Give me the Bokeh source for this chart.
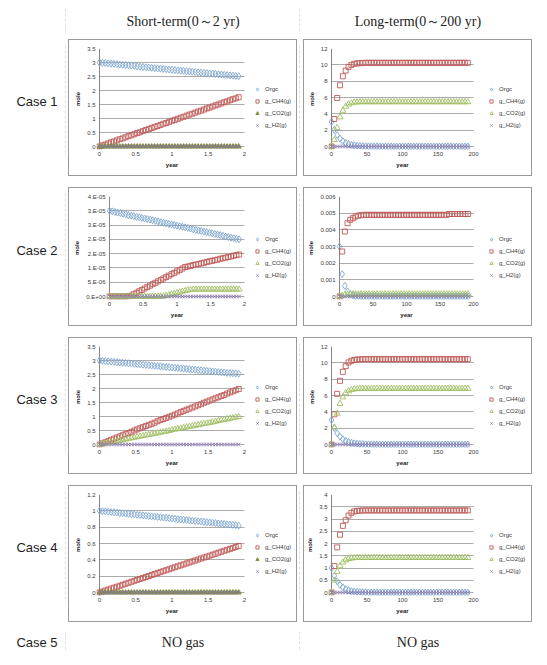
from bokeh.plotting import figure
from bokeh.layouts import row, column
from bokeh.models import (Range1d, Span, Label, Legend, FixedTicker, LinearAxis,
                          CustomJSTickFormatter, ColumnDataSource)
from bokeh.embed import file_html
from bokeh.resources import INLINE
from bokeh.core.validation import silence
from bokeh.core.validation.warnings import MISSING_RENDERERS

silence(MISSING_RENDERERS, True)

# ------------------------------------------------------------------ data
COL_HEADERS = ["Short-term(0～2 yr)", "Long-term(0～200 yr)"]
ROW_LABELS = ["Case 1", "Case 2", "Case 3", "Case 4", "Case 5"]
NO_GAS = "NO gas"
SERIES_NAMES = ["Orgc", "g_CH4(g)", "g_CO2(g)", "g_H2(g)"]
X_TITLE = "year"
Y_TITLE = "mole"

YEARS_SHORT = [0.00, 0.04, 0.08, 0.12, 0.16, 0.20, 0.24, 0.28, 0.32, 0.36,
               0.40, 0.44, 0.48, 0.52, 0.56, 0.60, 0.64, 0.68, 0.72, 0.76,
               0.80, 0.84, 0.88, 0.92, 0.96, 1.00, 1.04, 1.08, 1.12, 1.16,
               1.20, 1.24, 1.28, 1.32, 1.36, 1.40, 1.44, 1.48, 1.52, 1.56,
               1.60, 1.64, 1.68, 1.72, 1.76, 1.80, 1.84, 1.88, 1.92]
YEARS_LONG = [0, 4, 8, 12, 16, 20, 24, 28, 32, 36,
              40, 44, 48, 52, 56, 60, 64, 68, 72, 76,
              80, 84, 88, 92, 96, 100, 104, 108, 112, 116,
              120, 124, 128, 132, 136, 140, 144, 148, 152, 156,
              160, 164, 168, 172, 176, 180, 184, 188, 192]

FLAT_ZERO = [0, 0, 0, 0, 0, 0, 0, 0, 0, 0,
             0, 0, 0, 0, 0, 0, 0, 0, 0, 0,
             0, 0, 0, 0, 0, 0, 0, 0, 0, 0,
             0, 0, 0, 0, 0, 0, 0, 0, 0, 0,
             0, 0, 0, 0, 0, 0, 0, 0, 0]

# Case 1
ORGC_C1_SHORT = [3.00, 2.99, 2.98, 2.97, 2.96, 2.95, 2.94, 2.93, 2.92, 2.91,
                 2.90, 2.89, 2.88, 2.86, 2.85, 2.84, 2.83, 2.82, 2.81, 2.80,
                 2.79, 2.78, 2.77, 2.76, 2.75, 2.74, 2.73, 2.72, 2.71, 2.70,
                 2.69, 2.68, 2.67, 2.66, 2.65, 2.64, 2.63, 2.62, 2.61, 2.60,
                 2.59, 2.58, 2.57, 2.56, 2.55, 2.54, 2.53, 2.52, 2.51]
CH4_C1_SHORT = [0.00, 0.04, 0.07, 0.11, 0.15, 0.18, 0.22, 0.26, 0.29, 0.33,
                0.37, 0.40, 0.44, 0.48, 0.51, 0.55, 0.59, 0.62, 0.66, 0.70,
                0.73, 0.77, 0.81, 0.84, 0.88, 0.92, 0.95, 0.99, 1.03, 1.06,
                1.10, 1.14, 1.17, 1.21, 1.25, 1.28, 1.32, 1.36, 1.39, 1.43,
                1.47, 1.50, 1.54, 1.58, 1.61, 1.65, 1.69, 1.72, 1.76]
ORGC_C1_LONG = [3.00, 2.05, 1.40, 0.96, 0.66, 0.45, 0.31, 0.21, 0.14, 0.10,
                0.07, 0.05, 0.03, 0.02, 0.02, 0.01, 0.01, 0.00, 0.00, 0.00,
                0.00, 0.00, 0.00, 0.00, 0.00, 0.00, 0.00, 0.00, 0.00, 0.00,
                0.00, 0.00, 0.00, 0.00, 0.00, 0.00, 0.00, 0.00, 0.00, 0.00,
                0.00, 0.00, 0.00, 0.00, 0.00, 0.00, 0.00, 0.00, 0.00]
CH4_C1_LONG = [0.00, 3.37, 5.94, 7.50, 8.60, 9.30, 9.75, 10.00, 10.12, 10.18,
               10.21, 10.23, 10.24, 10.25, 10.25, 10.25, 10.25, 10.25, 10.25, 10.25,
               10.25, 10.25, 10.25, 10.25, 10.25, 10.25, 10.25, 10.25, 10.25, 10.25,
               10.25, 10.25, 10.25, 10.25, 10.25, 10.25, 10.25, 10.25, 10.25, 10.25,
               10.25, 10.25, 10.25, 10.25, 10.25, 10.25, 10.25, 10.25, 10.25]
CO2_C1_LONG = [0.00, 0.80, 2.30, 3.60, 4.40, 4.90, 5.18, 5.32, 5.40, 5.43,
               5.45, 5.45, 5.45, 5.45, 5.45, 5.45, 5.45, 5.45, 5.45, 5.45,
               5.45, 5.45, 5.45, 5.45, 5.45, 5.45, 5.45, 5.45, 5.45, 5.45,
               5.45, 5.45, 5.45, 5.45, 5.45, 5.45, 5.45, 5.45, 5.45, 5.45,
               5.45, 5.45, 5.45, 5.45, 5.45, 5.45, 5.45, 5.45, 5.45]

# Case 2
ORGC_C2_SHORT = [3.00e-5, 2.98e-5, 2.96e-5, 2.94e-5, 2.92e-5, 2.90e-5, 2.88e-5, 2.85e-5, 2.83e-5, 2.81e-5,
                 2.79e-5, 2.77e-5, 2.75e-5, 2.73e-5, 2.71e-5, 2.69e-5, 2.67e-5, 2.65e-5, 2.63e-5, 2.60e-5,
                 2.58e-5, 2.56e-5, 2.54e-5, 2.52e-5, 2.50e-5, 2.48e-5, 2.46e-5, 2.44e-5, 2.42e-5, 2.40e-5,
                 2.38e-5, 2.35e-5, 2.33e-5, 2.31e-5, 2.29e-5, 2.27e-5, 2.25e-5, 2.23e-5, 2.21e-5, 2.19e-5,
                 2.17e-5, 2.15e-5, 2.13e-5, 2.10e-5, 2.08e-5, 2.06e-5, 2.04e-5, 2.02e-5, 2.00e-5]
CH4_C2_SHORT = [0.00e-5, 0.00e-5, 0.00e-5, 0.00e-5, 0.00e-5, 0.00e-5, 0.00e-5, 0.01e-5, 0.03e-5, 0.08e-5,
                0.13e-5, 0.18e-5, 0.23e-5, 0.28e-5, 0.33e-5, 0.38e-5, 0.43e-5, 0.48e-5, 0.53e-5, 0.58e-5,
                0.63e-5, 0.68e-5, 0.73e-5, 0.78e-5, 0.83e-5, 0.88e-5, 0.93e-5, 0.98e-5, 1.03e-5, 1.05e-5,
                1.07e-5, 1.10e-5, 1.12e-5, 1.14e-5, 1.16e-5, 1.18e-5, 1.21e-5, 1.23e-5, 1.25e-5, 1.27e-5,
                1.29e-5, 1.32e-5, 1.34e-5, 1.36e-5, 1.38e-5, 1.40e-5, 1.43e-5, 1.45e-5, 1.47e-5]
CO2_C2_SHORT = [0.00e-5, 0.00e-5, 0.00e-5, 0.00e-5, 0.00e-5, 0.00e-5, 0.00e-5, 0.00e-5, 0.00e-5, 0.00e-5,
                0.00e-5, 0.00e-5, 0.00e-5, 0.00e-5, 0.00e-5, 0.00e-5, 0.00e-5, 0.00e-5, 0.00e-5, 0.00e-5,
                0.01e-5, 0.03e-5, 0.05e-5, 0.08e-5, 0.10e-5, 0.13e-5, 0.15e-5, 0.18e-5, 0.20e-5, 0.22e-5,
                0.24e-5, 0.25e-5, 0.25e-5, 0.25e-5, 0.25e-5, 0.25e-5, 0.25e-5, 0.25e-5, 0.25e-5, 0.25e-5,
                0.25e-5, 0.25e-5, 0.25e-5, 0.25e-5, 0.25e-5, 0.25e-5, 0.25e-5, 0.25e-5, 0.25e-5]
ORGC_C2_LONG = [0.00300, 0.00134, 0.00064, 0.00030, 0.00014, 0.00007, 0.00003, 0.00002, 0.00001, 0.0,
                0.0, 0.0, 0.0, 0.0, 0.0, 0.0, 0.0, 0.0, 0.0, 0.0,
                0.0, 0.0, 0.0, 0.0, 0.0, 0.0, 0.0, 0.0, 0.0, 0.0,
                0.0, 0.0, 0.0, 0.0, 0.0, 0.0, 0.0, 0.0, 0.0, 0.0,
                0.0, 0.0, 0.0, 0.0, 0.0, 0.0, 0.0, 0.0, 0.0]
CH4_C2_LONG = [0.0, 0.00270, 0.00390, 0.00440, 0.00460, 0.00470, 0.00480, 0.00485, 0.00488, 0.00490,
               0.00490, 0.00490, 0.00490, 0.00490, 0.00490, 0.00490, 0.00490, 0.00490, 0.00490, 0.00490,
               0.00490, 0.00490, 0.00490, 0.00490, 0.00490, 0.00490, 0.00490, 0.00490, 0.00490, 0.00490,
               0.00490, 0.00490, 0.00490, 0.00490, 0.00490, 0.00490, 0.00490, 0.00490, 0.00490, 0.00490,
               0.00490, 0.00495, 0.00495, 0.00495, 0.00495, 0.00495, 0.00495, 0.00495, 0.00495]
CO2_C2_LONG = [0.0, 0.00005, 0.00010, 0.00012, 0.00013, 0.00014, 0.00014, 0.00014, 0.00014, 0.00014,
               0.00014, 0.00014, 0.00014, 0.00014, 0.00014, 0.00014, 0.00014, 0.00014, 0.00014, 0.00014,
               0.00014, 0.00014, 0.00014, 0.00014, 0.00014, 0.00014, 0.00014, 0.00014, 0.00014, 0.00014,
               0.00014, 0.00014, 0.00014, 0.00014, 0.00014, 0.00014, 0.00014, 0.00014, 0.00014, 0.00014,
               0.00014, 0.00014, 0.00014, 0.00014, 0.00014, 0.00014, 0.00014, 0.00014, 0.00014]

# Case 3
ORGC_C3_SHORT = [3.00, 2.99, 2.98, 2.97, 2.96, 2.95, 2.94, 2.93, 2.92, 2.91,
                 2.90, 2.89, 2.88, 2.87, 2.86, 2.85, 2.84, 2.83, 2.82, 2.81,
                 2.80, 2.79, 2.78, 2.77, 2.76, 2.75, 2.74, 2.73, 2.72, 2.71,
                 2.70, 2.69, 2.68, 2.67, 2.66, 2.65, 2.64, 2.63, 2.62, 2.61,
                 2.60, 2.59, 2.58, 2.57, 2.56, 2.55, 2.54, 2.54, 2.53]
CH4_C3_SHORT = [0.00, 0.04, 0.08, 0.12, 0.17, 0.21, 0.25, 0.29, 0.33, 0.37,
                0.41, 0.45, 0.50, 0.54, 0.58, 0.62, 0.66, 0.70, 0.74, 0.78,
                0.83, 0.87, 0.91, 0.95, 0.99, 1.03, 1.07, 1.11, 1.16, 1.20,
                1.24, 1.28, 1.32, 1.36, 1.40, 1.44, 1.49, 1.53, 1.57, 1.61,
                1.65, 1.69, 1.73, 1.77, 1.82, 1.86, 1.90, 1.94, 1.98]
CO2_C3_SHORT = [0.00, 0.02, 0.04, 0.06, 0.08, 0.10, 0.12, 0.14, 0.16, 0.19,
                0.21, 0.23, 0.25, 0.27, 0.29, 0.31, 0.33, 0.35, 0.37, 0.39,
                0.41, 0.43, 0.45, 0.47, 0.49, 0.52, 0.54, 0.56, 0.58, 0.60,
                0.62, 0.64, 0.66, 0.68, 0.70, 0.72, 0.74, 0.76, 0.78, 0.80,
                0.82, 0.85, 0.87, 0.89, 0.91, 0.93, 0.95, 0.97, 0.99]
ORGC_C3_LONG = [3.00, 2.02, 1.38, 0.95, 0.65, 0.45, 0.31, 0.21, 0.14, 0.10,
                0.07, 0.05, 0.03, 0.02, 0.02, 0.01, 0.01, 0.00, 0.00, 0.00,
                0.00, 0.00, 0.00, 0.00, 0.00, 0.00, 0.00, 0.00, 0.00, 0.00,
                0.00, 0.00, 0.00, 0.00, 0.00, 0.00, 0.00, 0.00, 0.00, 0.00,
                0.00, 0.00, 0.00, 0.00, 0.00, 0.00, 0.00, 0.00, 0.00]
CH4_C3_LONG = [0.00, 3.70, 6.20, 7.80, 8.90, 9.60, 10.05, 10.25, 10.35, 10.40,
               10.43, 10.44, 10.45, 10.45, 10.45, 10.45, 10.45, 10.45, 10.45, 10.45,
               10.45, 10.45, 10.45, 10.45, 10.45, 10.45, 10.45, 10.45, 10.45, 10.45,
               10.45, 10.45, 10.45, 10.45, 10.45, 10.45, 10.45, 10.45, 10.45, 10.45,
               10.45, 10.45, 10.45, 10.45, 10.45, 10.45, 10.45, 10.45, 10.45]
CO2_C3_LONG = [0.00, 2.10, 3.80, 5.00, 5.80, 6.30, 6.55, 6.70, 6.78, 6.82,
               6.84, 6.85, 6.85, 6.85, 6.85, 6.85, 6.85, 6.85, 6.85, 6.85,
               6.85, 6.85, 6.85, 6.85, 6.85, 6.85, 6.85, 6.85, 6.85, 6.85,
               6.85, 6.85, 6.85, 6.85, 6.85, 6.85, 6.85, 6.85, 6.85, 6.85,
               6.85, 6.85, 6.85, 6.85, 6.85, 6.85, 6.85, 6.85, 6.85]

# Case 4
ORGC_C4_SHORT = [1.000, 0.996, 0.993, 0.989, 0.985, 0.981, 0.978, 0.974, 0.970, 0.966,
                 0.963, 0.959, 0.955, 0.951, 0.948, 0.944, 0.940, 0.936, 0.933, 0.929,
                 0.925, 0.921, 0.918, 0.914, 0.910, 0.906, 0.903, 0.899, 0.895, 0.891,
                 0.888, 0.884, 0.880, 0.876, 0.873, 0.869, 0.865, 0.861, 0.858, 0.854,
                 0.850, 0.846, 0.843, 0.839, 0.835, 0.831, 0.828, 0.824, 0.820]
CH4_C4_SHORT = [0.000, 0.012, 0.024, 0.036, 0.048, 0.059, 0.071, 0.083, 0.095, 0.107,
                0.119, 0.131, 0.143, 0.154, 0.166, 0.178, 0.190, 0.202, 0.214, 0.226,
                0.238, 0.249, 0.261, 0.273, 0.285, 0.297, 0.309, 0.321, 0.333, 0.344,
                0.356, 0.368, 0.380, 0.392, 0.404, 0.416, 0.428, 0.439, 0.451, 0.463,
                0.475, 0.487, 0.499, 0.511, 0.523, 0.534, 0.546, 0.558, 0.570]
ORGC_C4_LONG = [1.00, 0.68, 0.46, 0.31, 0.21, 0.14, 0.09, 0.06, 0.04, 0.03,
                0.02, 0.01, 0.01, 0.00, 0.00, 0.00, 0.00, 0.00, 0.00, 0.00,
                0.00, 0.00, 0.00, 0.00, 0.00, 0.00, 0.00, 0.00, 0.00, 0.00,
                0.00, 0.00, 0.00, 0.00, 0.00, 0.00, 0.00, 0.00, 0.00, 0.00,
                0.00, 0.00, 0.00, 0.00, 0.00, 0.00, 0.00, 0.00, 0.00]
CH4_C4_LONG = [0.00, 1.08, 1.84, 2.36, 2.72, 2.95, 3.14, 3.25, 3.31, 3.33,
               3.34, 3.35, 3.35, 3.35, 3.35, 3.35, 3.35, 3.35, 3.35, 3.35,
               3.35, 3.35, 3.35, 3.35, 3.35, 3.35, 3.35, 3.35, 3.35, 3.35,
               3.35, 3.35, 3.35, 3.35, 3.35, 3.35, 3.35, 3.35, 3.35, 3.35,
               3.35, 3.35, 3.35, 3.35, 3.35, 3.35, 3.35, 3.35, 3.35]
CO2_C4_LONG = [0.00, 0.50, 0.85, 1.08, 1.23, 1.32, 1.37, 1.40, 1.41, 1.42,
               1.42, 1.42, 1.42, 1.42, 1.42, 1.42, 1.42, 1.42, 1.42, 1.42,
               1.42, 1.42, 1.42, 1.42, 1.42, 1.42, 1.42, 1.42, 1.42, 1.42,
               1.42, 1.42, 1.42, 1.42, 1.42, 1.42, 1.42, 1.42, 1.42, 1.42,
               1.42, 1.42, 1.42, 1.42, 1.42, 1.42, 1.42, 1.42, 1.42]

# tick values / labels
XT_SHORT = [0, 0.5, 1, 1.5, 2]
XL_SHORT = ["0", "0.5", "1", "1.5", "2"]
XT_LONG = [0, 50, 100, 150, 200]
XL_LONG = ["0", "50", "100", "150", "200"]
YT_3_5 = [0, 0.5, 1, 1.5, 2, 2.5, 3, 3.5]
YL_3_5 = ["0", "0.5", "1", "1.5", "2", "2.5", "3", "3.5"]
YT_12 = [0, 2, 4, 6, 8, 10, 12]
YL_12 = ["0", "2", "4", "6", "8", "10", "12"]
YT_C2_SHORT = [0, 5e-6, 1e-5, 1.5e-5, 2e-5, 2.5e-5, 3e-5, 3.5e-5]
YL_C2_SHORT = ["0.E+00", "5.E-06", "1.E-05", "2.E-05", "2.E-05", "3.E-05", "3.E-05", "4.E-05"]
YT_C2_LONG = [0, 0.001, 0.002, 0.003, 0.004, 0.005, 0.006]
YL_C2_LONG = ["0", "0.001", "0.002", "0.003", "0.004", "0.005", "0.006"]
YT_1_2 = [0, 0.2, 0.4, 0.6, 0.8, 1.0, 1.2]
YL_1_2 = ["0", "0.2", "0.4", "0.6", "0.8", "1", "1.2"]
YT_4 = [0, 0.5, 1, 1.5, 2, 2.5, 3, 3.5, 4]
YL_4 = ["0", "0.5", "1", "1.5", "2", "2.5", "3", "3.5", "4"]

CASES = [
    dict(short=(ORGC_C1_SHORT, CH4_C1_SHORT, FLAT_ZERO, FLAT_ZERO), long=(ORGC_C1_LONG, CH4_C1_LONG, CO2_C1_LONG, FLAT_ZERO),
         ys=(YT_3_5, YL_3_5), yl=(YT_12, YL_12), filled=True, left_s=99, left_l=331),
    dict(short=(ORGC_C2_SHORT, CH4_C2_SHORT, CO2_C2_SHORT, FLAT_ZERO), long=(ORGC_C2_LONG, CH4_C2_LONG, CO2_C2_LONG, FLAT_ZERO),
         ys=(YT_C2_SHORT, YL_C2_SHORT), yl=(YT_C2_LONG, YL_C2_LONG), filled=False, left_s=109, left_l=339),
    dict(short=(ORGC_C3_SHORT, CH4_C3_SHORT, CO2_C3_SHORT, FLAT_ZERO), long=(ORGC_C3_LONG, CH4_C3_LONG, CO2_C3_LONG, FLAT_ZERO),
         ys=(YT_3_5, YL_3_5), yl=(YT_12, YL_12), filled=False, left_s=99, left_l=331),
    dict(short=(ORGC_C4_SHORT, CH4_C4_SHORT, FLAT_ZERO, FLAT_ZERO), long=(ORGC_C4_LONG, CH4_C4_LONG, CO2_C4_LONG, FLAT_ZERO),
         ys=(YT_1_2, YL_1_2), yl=(YT_4, YL_4), filled=True, left_s=99, left_l=331),
]

for c in CASES:
    for s in c["short"] + c["long"]:
        assert len(s) == 49, len(s)

# ------------------------------------------------------------------ style
C_ORGC = "#7ea6cf"
C_CH4 = "#c05a57"
C_CO2 = "#9fc063"
C_CO2_DARK = "#7f8d34"
C_H2 = "#8c7ab5"
SEP = "#808080"
BOX = "#9a9a9a"
GRID = "#ababab"
AXIS = "#868686"
TXT = "#3a3a3a"
SANS = "Liberation Sans"
SERIF = "Liberation Serif"
PAD = 3
SEP_T = 3
LABEL_W, SHORT_W, LONG_W = 57, 233, 235
TOTAL_W = LABEL_W + 1 + SHORT_W + 1 + LONG_W
HEADER_H, LAST_H = 26, 21
CELL_H = [145, 147, 145, 145]


def blank(w, h):
    p = figure(width=w, height=h, x_range=Range1d(0, w), y_range=Range1d(0, h),
               toolbar_location=None, output_backend="svg", min_border=0,
               x_axis_location=None, y_axis_location=None, outline_line_color=None,
               background_fill_color="white", border_fill_color="white")
    p.grid.visible = False
    return p


def text_cell(w, h, text, font, size):
    p = blank(w, h)
    p.add_layout(Label(x=w / 2, y=h / 2, text=text, text_align="center", text_baseline="middle",
                       text_font=font, text_font_size=size, text_color="#1e1e1e"))
    return p


def hsep(w):
    p = blank(w, SEP_T)
    p.add_layout(Span(location=SEP_T / 2, dimension="width", line_color=SEP, line_width=1, line_dash="3 2"))
    return p


def vsep(h):
    p = blank(1, h)
    p.add_layout(Span(location=0.5, dimension="height", line_color=SEP, line_width=1, line_dash="3 2"))
    return p


def label_formatter(ticks, labels):
    return CustomJSTickFormatter(args=dict(vals=list(ticks), labels=list(labels)), code="""
        let best = 0;
        for (let i = 1; i < vals.length; i++) {
            if (Math.abs(vals[i] - tick) < Math.abs(vals[best] - tick)) { best = i; }
        }
        return labels[best];
    """)


def style_axis(ax):
    ax.axis_line_color = None
    ax.major_tick_line_color = None
    ax.minor_tick_line_color = None
    ax.major_tick_out = 0
    ax.major_tick_in = 0
    ax.minor_tick_out = 0
    ax.minor_tick_in = 0
    ax.major_label_text_font = SANS
    ax.major_label_text_font_size = "6px"
    ax.major_label_text_color = TXT
    ax.axis_label_text_font = SANS
    ax.axis_label_text_font_size = "6px"
    ax.axis_label_text_font_style = "bold"
    ax.axis_label_text_color = "#222222"
    ax.axis_label_standoff = 3


def chart(years, series, xt, xl, yt, yl, filled, cell_h, kind, plot_left):
    ew = 227
    eh = cell_h - 10
    if kind == "short":
        ex0, right, mside, leg_dx = 69, 244, 3, 9
    else:
        ex0, right, mside, leg_dx = 304, 473, 4, 14
    top_b, bot_b = 8, 26
    frame_left = plot_left - PAD
    frame_right = ex0 + ew - 2
    plot_h = eh - top_b - bot_b - PAD
    x_end, y_end = xt[-1], yt[-1]
    xpad = x_end * PAD / (right - plot_left)
    xext = x_end * (frame_right - right) / (right - plot_left)
    ypad = y_end * PAD / plot_h
    p = figure(width=ew, height=eh, x_range=Range1d(-xpad, x_end + xext), y_range=Range1d(-ypad, y_end),
               toolbar_location=None, output_backend="svg",
               min_border_left=frame_left - ex0, min_border_right=ex0 + ew - frame_right,
               min_border_top=top_b, min_border_bottom=bot_b,
               margin=(3, mside, 7, mside), outline_line_color=None,
               background_fill_color="white", border_fill_color="white")
    p.styles = {"outline": f"1px solid {BOX}"}

    xaxis = p.xaxis[0]
    yaxis = p.yaxis[0]
    xaxis.ticker = FixedTicker(ticks=xt)
    yaxis.ticker = FixedTicker(ticks=yt)
    xaxis.formatter = label_formatter(xt, xl)
    yaxis.formatter = label_formatter(yt, yl)
    xaxis.bounds = (0, x_end)
    yaxis.axis_label = Y_TITLE
    style_axis(xaxis)
    style_axis(yaxis)
    yaxis.major_label_standoff = 1
    xaxis.major_label_standoff = 2

    # x title: centred under the plot area (not under the legend)
    title_axis = LinearAxis(ticker=FixedTicker(ticks=[x_end / 2]), bounds=(0, x_end),
                            formatter=CustomJSTickFormatter(args=dict(name=X_TITLE), code="return name;"))
    style_axis(title_axis)
    title_axis.major_label_text_font_style = "bold"
    title_axis.major_label_text_color = "#222222"
    title_axis.major_label_standoff = 3
    p.add_layout(title_axis, "below")

    p.xgrid.visible = False
    ygrid = p.ygrid[0]
    if hasattr(ygrid, "cross_bounds"):
        ygrid.cross_bounds = (0, x_end)
        ygrid.grid_line_color = GRID
        ygrid.grid_line_width = 1
    else:
        ygrid.visible = False
        p.segment(x0=0, x1=x_end, y0=yt, y1=yt, line_color=GRID, line_width=1, level="underlay")

    p.add_layout(Span(location=0, dimension="height", line_color=AXIS, line_width=1, level="underlay"))

    orgc, ch4, co2, h2 = series
    src = ColumnDataSource(dict(year=years, orgc=orgc, ch4=ch4, co2=co2, h2=h2))
    r1 = p.scatter("year", "orgc", source=src, marker="diamond", size=7,
                   line_color=C_ORGC, fill_alpha=0, line_width=0.9)
    r2 = p.scatter("year", "ch4", source=src, marker="square", size=5,
                   line_color=C_CH4, fill_alpha=0, line_width=0.9)
    if filled:
        r3 = p.scatter("year", "co2", source=src, marker="triangle", size=5,
                       line_color=C_CO2_DARK, fill_color=C_CO2_DARK, line_width=0.9)
    else:
        r3 = p.scatter("year", "co2", source=src, marker="triangle", size=6,
                       line_color=C_CO2, fill_alpha=0, line_width=0.9)
    r4 = p.scatter("year", "h2", source=src, marker="x", size=5,
                   line_color=C_H2, line_width=0.9)

    leg = Legend(items=[(n, [r]) for n, r in zip(SERIES_NAMES, [r1, r2, r3, r4])],
                 location=(right - frame_left + leg_dx, 20), orientation="vertical",
                 border_line_color=None, background_fill_alpha=0, padding=0, margin=0, spacing=4,
                 glyph_width=8, glyph_height=8, label_height=8, label_standoff=4,
                 label_text_font=SANS, label_text_font_size="6px", label_text_color=TXT)
    p.add_layout(leg)
    return p


rows = [
    row(blank(LABEL_W, HEADER_H), vsep(HEADER_H),
        text_cell(SHORT_W, HEADER_H, COL_HEADERS[0], SERIF, "14px"), vsep(HEADER_H),
        text_cell(LONG_W, HEADER_H, COL_HEADERS[1], SERIF, "14px")),
    hsep(TOTAL_W),
]
for i, c in enumerate(CASES):
    h = CELL_H[i]
    short_fig = chart(YEARS_SHORT, c["short"], XT_SHORT, XL_SHORT, c["ys"][0], c["ys"][1],
                      c["filled"], h, "short", c["left_s"])
    long_fig = chart(YEARS_LONG, c["long"], XT_LONG, XL_LONG, c["yl"][0], c["yl"][1],
                     False, h, "long", c["left_l"])
    rows.append(row(text_cell(LABEL_W, h, ROW_LABELS[i], SANS, "13px"), vsep(h),
                    short_fig, vsep(h), long_fig))
    rows.append(hsep(TOTAL_W))
rows.append(row(text_cell(LABEL_W, LAST_H, ROW_LABELS[4], SANS, "13px"), vsep(LAST_H),
                text_cell(SHORT_W, LAST_H, NO_GAS, SERIF, "14px"), vsep(LAST_H),
                text_cell(LONG_W, LAST_H, NO_GAS, SERIF, "14px")))
rows.append(hsep(TOTAL_W))

root = column(*rows, margin=(8, 0, 0, 8))
open("out.html", "w").write(file_html(root, INLINE, title="Gas generation cases"))
